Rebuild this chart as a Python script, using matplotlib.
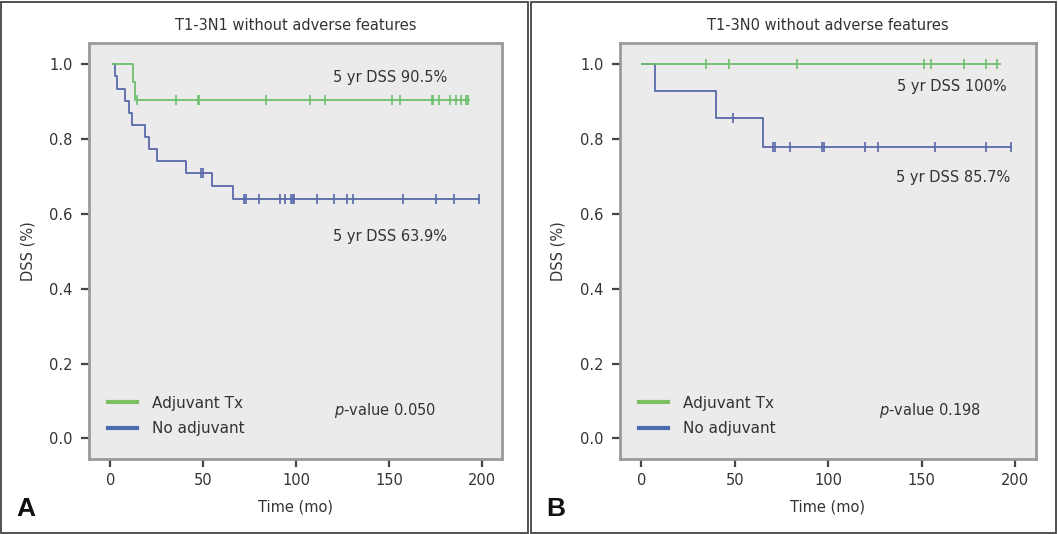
import matplotlib
matplotlib.use("Agg")
import matplotlib.pyplot as plt
from matplotlib.patches import Rectangle
from matplotlib.lines import Line2D
import numpy as np

plt.rcParams['font.family'] = ['DejaVu Sans']

# ---------------- data ----------------
titles = ["T1-3N1 without adverse features", "T1-3N0 without adverse features"]
panel_letters = ["A", "B"]
legend_labels = ["Adjuvant Tx", "No adjuvant"]
pvalues = ["0.050", "0.198"]
dss_adj_labels = ["5 yr DSS 90.5%", "5 yr DSS 100%"]
dss_no_labels = ["5 yr DSS 63.9%", "5 yr DSS 85.7%"]
xticks = [0, 50, 100, 150, 200]
yticks = [0.0, 0.2, 0.4, 0.6, 0.8, 1.0]

# Panel A - adjuvant
a_adj_times = [1.3, 12.1, 13.1]
a_adj_surv = [1.0, 0.952, 0.905]
a_adj_end = 193.2
a_adj_cens = [14.2, 35.5, 47.0, 47.8, 84.0, 107.4, 115.6, 151.9, 156.0, 173.1, 174.0,
              177.2, 183.1, 186.0, 188.7, 191.4, 192.4]
# Panel A - no adjuvant
a_no_times = [1.3, 2.5, 3.6, 7.8, 10.1, 11.8, 18.7, 21.0, 25.3, 40.6, 54.6, 65.9]
a_no_surv = [1.0, 0.968, 0.935, 0.903, 0.871, 0.839, 0.806, 0.774, 0.742, 0.710, 0.675, 0.639]
a_no_end = 198.4
a_no_cens = [48.6, 49.6, 72.0, 73.1, 80.1, 91.4, 94.1, 97.3, 98.2, 99.1, 111.3, 120.6,
             127.3, 130.7, 157.8, 175.2, 185.2, 198.4]

# Panel B - adjuvant
b_adj_times = [0.5]
b_adj_surv = [1.0]
b_adj_end = 191.6
b_adj_cens = [34.7, 46.9, 83.5, 151.1, 155.0, 172.5, 184.5, 190.4]
# Panel B - no adjuvant
b_no_times = [0.5, 7.3, 40.0, 65.2]
b_no_surv = [1.0, 0.929, 0.857, 0.779]
b_no_end = 197.7
b_no_cens = [49.1, 70.3, 71.6, 79.4, 96.8, 97.8, 119.8, 126.4, 157.1, 184.5, 197.7]

panels = [
    (a_adj_times, a_adj_surv, a_adj_end, a_adj_cens, a_no_times, a_no_surv, a_no_end, a_no_cens),
    (b_adj_times, b_adj_surv, b_adj_end, b_adj_cens, b_no_times, b_no_surv, b_no_end, b_no_cens),
]

# ---------------- style ----------------
GREEN = "#6cbf6c"
BLUE = "#5868aa"
LEG_GREEN = "#7dbf62"
LEG_BLUE = "#4a6db0"
BG = "#ebebeb"
TXT = "#333333"

W, H = 1058, 534
fig = plt.figure(figsize=(W / 100, H / 100), dpi=100)

axes_px = [(89.3, 502.3), (620.0, 1036.0)]
top_px, bot_px = 42.7, 459.3
border_px = [(1, 528), (531, 1056)]


def step_at(times, surv, t):
    idx = np.searchsorted(times, t, side="right") - 1
    return surv[max(idx, 0)]


for i, data in enumerate(panels):
    (ad_t, ad_s, ad_e, ad_c, no_t, no_s, no_e, no_c) = data
    l, r = axes_px[i]
    ax = fig.add_axes([l / W, 1 - bot_px / H, (r - l) / W, (bot_px - top_px) / H])
    ax.set_facecolor(BG)
    ax.set_xlim(-11.4, 211.1)
    ax.set_ylim(-0.056, 1.058)

    for t, s, e, c, col in [(no_t, no_s, no_e, no_c, BLUE), (ad_t, ad_s, ad_e, ad_c, GREEN)]:
        xs = list(t) + [e]
        ys = list(s) + [s[-1]]
        ax.step(xs, ys, where="post", color=col, lw=1.3, zorder=3)
        cy = [step_at(np.array(t), s, ct) for ct in c]
        ax.plot(c, cy, ls="none", marker="|", ms=7.5, mew=1.2, color=col, zorder=4)

    for sp in ax.spines.values():
        sp.set_color("#9a9a9a")
        sp.set_linewidth(2)
    ax.set_xticks(xticks)
    ax.set_yticks(yticks)
    ax.set_xticklabels([str(x) for x in xticks])
    ax.set_yticklabels([f"{y:.1f}" for y in yticks])
    ax.tick_params(axis="both", direction="out", length=6, width=1.6, color="#444444",
                   labelsize=10.5, labelcolor=TXT)
    ax.tick_params(axis="x", pad=4)
    ax.tick_params(axis="y", pad=6)
    ax.set_xlabel("Time (mo)", fontsize=10.5, color=TXT, labelpad=8)
    ax.set_ylabel("DSS (%)", fontsize=10.5, color=TXT, labelpad=10)

    # annotations
    if i == 0:
        ax.text(150.6, 0.965, dss_adj_labels[i], ha="center", va="center", fontsize=10.5, color=TXT)
        ax.text(150.6, 0.541, dss_no_labels[i], ha="center", va="center", fontsize=10.5, color=TXT)
        ax.text(148, 0.074, "$\\it{p}$-value " + pvalues[i], ha="center", va="center",
                fontsize=10.5, color=TXT)
    else:
        ax.text(166, 0.941, dss_adj_labels[i], ha="center", va="center", fontsize=10.5, color=TXT)
        ax.text(166.9, 0.698, dss_no_labels[i], ha="center", va="center", fontsize=10.5, color=TXT)
        ax.text(154.5, 0.074, "$\\it{p}$-value " + pvalues[i], ha="center", va="center",
                fontsize=10.5, color=TXT)

    handles = [Line2D([], [], color=LEG_GREEN, lw=3), Line2D([], [], color=LEG_BLUE, lw=3)]
    ax.legend(handles, legend_labels, loc="lower left", bbox_to_anchor=(0.012, 0.022),
              frameon=False, fontsize=11, handlelength=1.9, handletextpad=1.0,
              labelspacing=0.7, labelcolor=TXT)

    # title
    cx = (l + r) / 2
    fig.text(cx / W, 1 - 25 / H, titles[i], ha="center", va="center", fontsize=10.5, color=TXT)

    # panel letter
    bx0, bx1 = border_px[i]
    fig.text((bx0 + 15) / W, 1 - 516 / H, panel_letters[i], ha="left", va="baseline",
             fontsize=19, fontweight="bold", family="Liberation Sans", color="#111111")

    # outer border
    fig.patches.append(Rectangle((bx0 / W, 1 / H), (bx1 - bx0) / W, (532 - 1) / H,
                                 transform=fig.transFigure, fill=False,
                                 edgecolor="#444444", lw=1.3, zorder=0))

fig.savefig("out.png", dpi=100)
